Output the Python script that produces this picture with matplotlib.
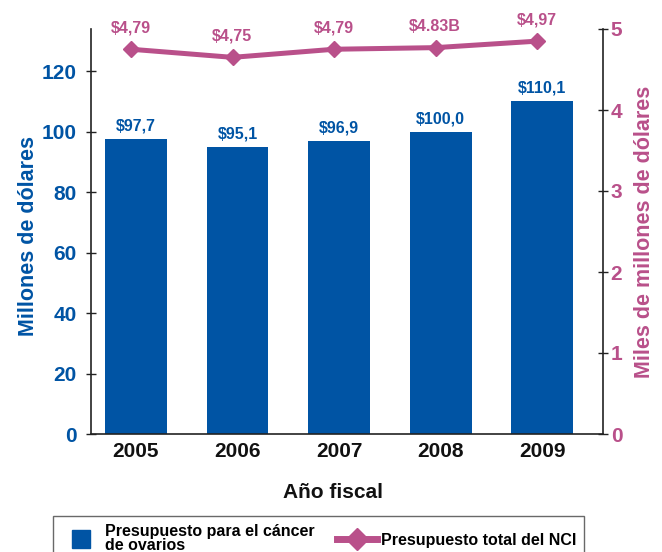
import matplotlib
matplotlib.use("Agg")
import matplotlib.pyplot as plt
from matplotlib.lines import Line2D
from matplotlib.transforms import ScaledTranslation

plt.rcParams['font.family'] = ['Liberation Sans', 'DejaVu Sans']
plt.rcParams['font.weight'] = 'bold'

years = ['2005', '2006', '2007', '2008', '2009']
ovarian = [97.7, 95.1, 96.9, 100.0, 110.1]
ovarian_labels = ['$97,7', '$95,1', '$96,9', '$100,0', '$110,1']
nci_total = [4.75, 4.65, 4.75, 4.77, 4.85]
nci_labels = ['$4,79', '$4,75', '$4,79', '$4.83B', '$4,97']

blue = '#0054a4'
pink = '#b9508a'
dark = '#222222'

fig = plt.figure(figsize=(6.62, 5.52), dpi=100)
ax = fig.add_axes([91 / 662, 1 - 434 / 552, (603 - 91) / 662, (434 - 29) / 552])

x = list(range(len(years)))
ax.bar(x, ovarian, width=0.61, color=blue, zorder=2)
for xi, v, lab in zip(x, ovarian, ovarian_labels):
    ax.annotate(lab, (xi, v), xytext=(0, 4), textcoords='offset points',
                ha='center', va='bottom', color=blue, fontsize=11.5, fontweight='bold')

ax.set_xlim(-0.443, 4.6)
ax.set_ylim(0, 134)
ax.set_yticks([0, 20, 40, 60, 80, 100, 120])
ax.set_xticks(x)
ax.set_xticklabels(years, fontsize=15, fontweight='bold', color='#111111')
ax.tick_params(axis='x', length=0, pad=6)
ax.tick_params(axis='y', direction='inout', length=7, width=1, colors=dark,
               labelcolor=blue, labelsize=15, pad=7)
ax.spines['top'].set_visible(False)
ax.spines['right'].set_visible(False)
for s in ['left', 'bottom']:
    ax.spines[s].set_color(dark)
    ax.spines[s].set_linewidth(1.2)
ax.set_ylabel('Millones de dólares', color=blue, fontsize=15.5, fontweight='bold')
ax.yaxis.set_label_coords(-0.101, 0.49)
ax.set_xlabel('Año fiscal', color='#111111', fontsize=15, fontweight='bold')
ax.xaxis.set_label_coords(0.473, -0.121)

# total NCI budget on the right axis (drawn a few pixels left of the bar centres)
ax2 = ax.twinx()
shift = ax2.transData + ScaledTranslation(-0.05, 0, fig.dpi_scale_trans)
ax2.plot(x, nci_total, color=pink, lw=3.6, marker='D', markersize=8, transform=shift, zorder=3)
for xi, v, lab in zip(x, nci_total, nci_labels):
    ax2.annotate(lab, (xi, v), xytext=(-4, 10), textcoords='offset points',
                 ha='center', va='bottom', color=pink, fontsize=11.5, fontweight='bold')
ax2.set_ylim(0, 5)
ax2.set_yticks([0, 1, 2, 3, 4, 5])
ax2.spines['top'].set_visible(False)
ax2.spines['left'].set_visible(False)
ax2.spines['bottom'].set_visible(False)
ax2.spines['right'].set_color(dark)
ax2.spines['right'].set_linewidth(1.2)
ax2.tick_params(axis='y', direction='inout', length=7, width=1, colors=dark,
                labelcolor=pink, labelsize=15, pad=2)
ax2.set_ylabel('Miles de millones de dólares', color=pink, fontsize=15.5, fontweight='bold')
ax2.yaxis.set_label_coords(1.060, 0.5)

handles = [
    Line2D([], [], marker='s', color=blue, linestyle='none', markersize=13),
    Line2D([], [], marker='D', color=pink, lw=5, markersize=11),
]
labels = ['Presupuesto para el cáncer\nde ovarios', 'Presupuesto total del NCI']
leg = fig.legend(handles, labels, loc='upper left',
                 bbox_to_anchor=(53 / 662, 1 - 516 / 552), ncol=2,
                 fancybox=False, frameon=True, edgecolor='#444444',
                 handlelength=2.5, handletextpad=0.25, borderpad=0.5,
                 borderaxespad=0, columnspacing=1.4,
                 prop={'weight': 'bold', 'size': 11.5})
leg.get_frame().set_linewidth(1.0)
for t in leg.get_texts():
    t.set_linespacing(0.95)

fig.savefig('out.png', dpi=100)
